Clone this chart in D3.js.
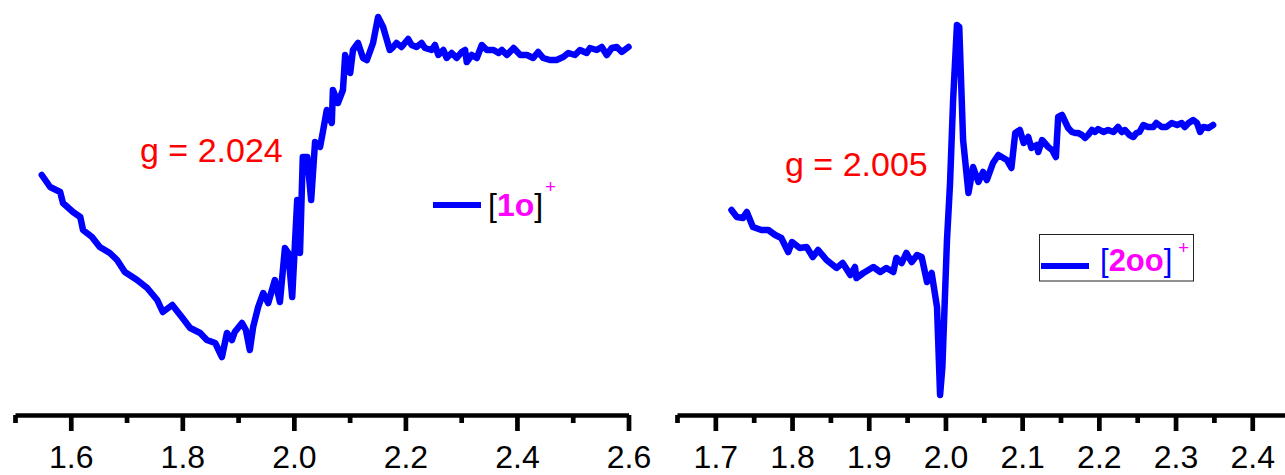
<!DOCTYPE html>
<html>
<head>
  <meta charset="utf-8">
  <title>EPR spectra [1o]+ and [2oo]+</title>
  <script src="https://d3js.org/d3.v7.min.js"></script>
  <style>
    body { margin: 0; background: #fff; }
    svg { display: block; font-family: "Liberation Sans", Arial, sans-serif; }
  </style>
</head>
<body>
<svg id="chart" width="1285" height="475"></svg>

<script>
// left panel, [1o]+ : field (g scale) and signal (arb. units)
var fieldA = [1.548,1.563,1.581,1.586,1.604,1.617,1.622,1.638,1.652,1.670,1.683,1.697,1.719,1.737,1.755,1.765,1.782,1.799,1.814,1.832,1.844,1.859,1.871,1.880,1.889,1.894,1.907,1.914,1.921,1.927,1.936,1.945,1.954,1.966,1.975,1.984,1.990,1.997,2.006,2.011,2.016,2.024,2.031,2.038,2.047,2.052,2.059,2.068,2.070,2.079,2.088,2.092,2.101,2.106,2.115,2.124,2.131,2.142,2.151,2.160,
  2.172,2.178,2.184,2.193,2.205,2.211,2.220,2.229,2.235,2.247,2.253,2.259,2.268,2.274,2.283,2.292,2.301,2.307,2.310,2.319,2.328,2.337,2.346,2.358,2.367,2.373,2.382,2.394,2.406,2.418,2.429,2.438,2.447,2.459,2.471,2.483,2.492,2.504,2.513,2.525,2.531,2.543,2.552,2.561,2.570,2.579,2.588,2.600];
var signalA = [22.5,21.3,20.8,19.7,18.8,18.3,17.0,16.3,15.3,14.7,14.0,12.8,12.0,11.2,10.0,8.8,9.5,8.3,7.2,6.7,6.0,5.7,4.3,6.7,6.0,6.8,7.7,7.0,5.0,7.3,9.3,10.7,9.7,12.0,9.8,15.2,14.7,10.3,20.0,14.7,24.3,24.3,20.0,25.8,25.3,26.8,29.0,27.7,31.0,29.7,31.0,34.5,32.7,35.0,35.7,34.2,34.0,35.7,38.3,37.3,
  35.0,35.3,35.7,35.3,36.1,35.5,35.3,35.7,35.2,35.0,35.5,34.5,35.0,34.2,34.7,34.2,34.8,35.0,33.8,34.5,34.2,35.5,35.0,35.0,34.7,35.0,34.5,35.2,34.5,34.5,34.2,34.8,34.2,34.0,34.0,34.3,34.7,34.5,35.0,34.7,35.2,35.0,35.3,34.5,35.2,35.3,34.8,35.3];

// right panel, [2oo]+
var fieldB = [1.721,1.728,1.736,1.741,1.749,1.760,1.769,1.778,1.786,1.795,1.800,1.810,1.819,1.827,1.834,1.845,1.858,1.866,1.876,1.882,1.884,1.893,1.906,1.915,1.923,1.932,1.936,1.943,1.949,1.956,1.963,1.969,1.976,1.982,1.989,1.993,1.996,2.002,2.006,2.010,2.015,2.018,2.023,2.030,2.036,2.043,2.049,2.054,2.062,2.069,2.080,2.086,2.091,2.097,2.102,2.108,2.112,2.119,2.121,2.126,2.134,2.139,2.144,2.147,2.152,
  2.160,2.165,2.169,2.173,2.178,2.182,2.186,2.191,2.195,2.199,2.206,2.212,2.219,2.225,2.230,2.234,2.240,2.245,2.249,2.253,2.258,2.264,2.271,2.275,2.282,2.288,2.295,2.302,2.308,2.312,2.317,2.323,2.328,2.332,2.336,2.343,2.349];
var signalB = [19.0,18.3,18.2,18.8,17.3,17.0,17.0,16.5,16.2,14.8,15.8,15.2,15.3,14.3,15.0,14.0,13.2,13.7,12.5,13.3,12.2,12.7,13.3,12.8,13.2,12.8,14.2,13.7,14.7,13.8,14.5,14.3,11.8,12.7,9.3,0.5,3.3,16.0,21.7,30.0,37.5,37.3,26.0,20.7,23.3,21.8,22.8,22.0,23.7,24.5,24.0,23.2,26.7,27.0,25.7,26.3,25.2,25.5,24.8,26.0,25.3,25.0,24.3,28.3,28.5,
  27.2,26.8,26.7,26.7,26.5,26.2,26.5,27.0,26.8,27.1,26.8,27.0,26.8,27.3,26.8,27.0,26.5,26.3,26.7,26.8,27.5,27.3,27.3,27.7,27.3,27.3,27.7,27.5,27.7,27.3,27.7,28.0,27.7,26.8,27.3,27.2,27.5];

var ticksA = [1.6,1.8,2.0,2.2,2.4,2.6];
var minorA = [1.5,1.7,1.9,2.1,2.3,2.5];
var ticksB = [1.7,1.8,1.9,2.0,2.1,2.2,2.3,2.4];
var minorB = [1.65,1.75,1.85,1.95,2.05,2.15,2.25,2.35,2.45];

var svg = d3.select("#chart");
var axisY = 415;

var panels = [
  {field: fieldA, signal: signalA, domain: [1.5, 2.6], range: [15, 628.5], ticks: ticksA, minor: minorA},
  {field: fieldB, signal: signalB, domain: [1.65, 2.45], range: [677, 1290.6], ticks: ticksB, minor: minorB}
];

var y = d3.scaleLinear().domain([0, 40]).range([400, 0]);

panels.forEach(function(p) {
  var x = d3.scaleLinear().domain(p.domain).range(p.range);

  // minor ticks first, then major ticks with labels
  var gMinor = svg.append("g")
      .attr("transform", "translate(0," + axisY + ")")
      .call(d3.axisBottom(x).tickValues(p.minor).tickSize(8).tickSizeOuter(0).tickFormat(""));
  gMinor.select(".domain").remove();

  var gAxis = svg.append("g")
      .attr("transform", "translate(0," + axisY + ")")
      .call(d3.axisBottom(x).tickValues(p.ticks).tickSize(16).tickSizeOuter(0).tickFormat(d3.format(".1f")));

  svg.selectAll("g .domain").attr("stroke-width", 4.7).attr("stroke", "#000");
  svg.selectAll("g .tick line").attr("stroke-width", 4.7).attr("stroke", "#000");
  gAxis.selectAll(".tick text")
      .attr("y", 53).attr("dy", null)
      .attr("font-size", 32).attr("fill", "#000")
      .attr("font-family", "'Liberation Sans', Arial, sans-serif");

  var pts = p.field.map(function(f, i) { return [f, p.signal[i]]; });
  var line = d3.line()
      .x(function(d) { return x(d[0]); })
      .y(function(d) { return y(d[1]); });

  svg.append("path")
      .datum(pts)
      .attr("d", line)
      .attr("fill", "none")
      .attr("stroke", "#0000ff")
      .attr("stroke-width", 6.5)
      .attr("stroke-linejoin", "round")
      .attr("stroke-linecap", "round");
});

// g-value annotations
svg.append("text").attr("x", 140).attr("y", 162)
    .attr("font-size", 34).attr("fill", "#ff0000").text("g = 2.024");
svg.append("text").attr("x", 785).attr("y", 176)
    .attr("font-size", 34).attr("fill", "#ff0000").text("g = 2.005");

// legend 1 (no frame)
svg.append("line").attr("x1", 433).attr("x2", 481).attr("y1", 205).attr("y2", 205)
    .attr("stroke", "#0000ff").attr("stroke-width", 6);
var t1 = svg.append("text").attr("x", 488).attr("y", 216).attr("font-size", 32);
t1.append("tspan").attr("fill", "#000").text("[");
t1.append("tspan").attr("fill", "#ff00ff").attr("font-weight", "bold").text("1o");
t1.append("tspan").attr("fill", "#000").text("]");
svg.append("text").attr("x", 545).attr("y", 193).attr("font-size", 19)
    .attr("fill", "#ff00ff").text("+");

// legend 2 (framed)
svg.append("rect").attr("x", 1039.5).attr("y", 234.5).attr("width", 154).attr("height", 46.5)
    .attr("fill", "none").attr("stroke", "#222").attr("stroke-width", 1);
svg.append("line").attr("x1", 1041).attr("x2", 1089).attr("y1", 266).attr("y2", 266)
    .attr("stroke", "#0000ff").attr("stroke-width", 6);
var t2 = svg.append("text").attr("x", 1100).attr("y", 271).attr("font-size", 31);
t2.append("tspan").attr("fill", "#0000ff").text("[");
t2.append("tspan").attr("fill", "#ff00ff").attr("font-weight", "bold").text("2oo");
t2.append("tspan").attr("fill", "#0000ff").text("]");
svg.append("text").attr("x", 1178).attr("y", 254).attr("font-size", 19)
    .attr("fill", "#ff00ff").text("+");
</script>
</body>
</html>
